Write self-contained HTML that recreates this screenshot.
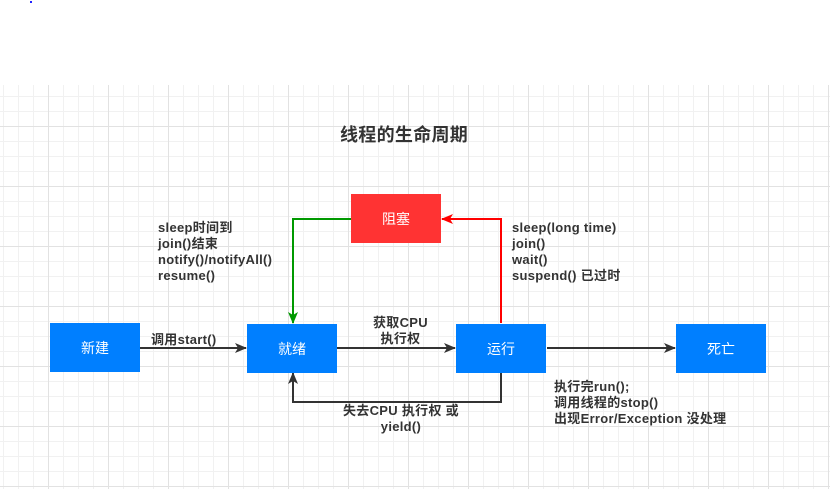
<!DOCTYPE html>
<html><head><meta charset="utf-8"><style>
body{margin:0;width:830px;height:489px;background:#fff;position:relative;overflow:hidden;font-family:"Liberation Sans","Noto Sans CJK SC",sans-serif}
.grid{position:absolute;left:0;top:85px;width:830px;height:404px;
background-image:linear-gradient(#e2e2e2 1px,transparent 1px),linear-gradient(90deg,#e2e2e2 1px,transparent 1px),linear-gradient(#f1f1f1 1px,transparent 1px),linear-gradient(90deg,#f1f1f1 1px,transparent 1px);
background-size:60px 60px,60px 60px,15px 15px,15px 15px;
background-position:0 41px,48px 0,0 11px,3px 0}
.b{position:absolute;width:90px;height:49px;background:#007fff;color:#fff;font-size:14px;display:flex;align-items:center;justify-content:center}
.t{position:absolute;font-size:13px;font-weight:bold;color:#333;line-height:16px;white-space:nowrap;letter-spacing:0.3px}
</style></head><body>
<div class="grid"></div>
<div style="position:absolute;left:30px;top:1px;width:2px;height:2px;background:#22f"></div>
<div class="t" style="left:340px;top:124px;font-size:18px;line-height:22px">线程的生命周期</div>
<svg width="830" height="489" style="position:absolute;left:0;top:0">
<defs>
<marker id="k" markerWidth="12" markerHeight="10" refX="11" refY="5" orient="auto" markerUnits="userSpaceOnUse"><path d="M0,0L12,5L0,10L3,5z" fill="#333"/></marker>
<marker id="g" markerWidth="12" markerHeight="10" refX="11" refY="5" orient="auto" markerUnits="userSpaceOnUse"><path d="M0,0L12,5L0,10L3,5z" fill="#090"/></marker>
<marker id="r" markerWidth="12" markerHeight="10" refX="11" refY="5" orient="auto" markerUnits="userSpaceOnUse"><path d="M0,0L12,5L0,10L3,5z" fill="#f00"/></marker>
</defs>
<g fill="none" stroke-width="2">
<path d="M140,348H246" stroke="#333" marker-end="url(#k)"/>
<path d="M337,348H455" stroke="#333" marker-end="url(#k)"/>
<path d="M547,348H675" stroke="#333" marker-end="url(#k)"/>
<path d="M501,372V402H293V373" stroke="#333" marker-end="url(#k)"/>
<path d="M351,219H293V323" stroke="#090" marker-end="url(#g)"/>
<path d="M501,323V219H442" stroke="#f00" marker-end="url(#r)"/>
</g></svg>
<div class="b" style="left:50px;top:323px">新建</div>
<div class="b" style="left:247px;top:324px">就绪</div>
<div class="b" style="left:456px;top:324px">运行</div>
<div class="b" style="left:676px;top:324px">死亡</div>
<div class="b" style="left:351px;top:194px;background:#f33">阻塞</div>
<div class="t" style="left:151px;top:332px">调用start()</div>
<div class="t" style="left:373px;top:315px;text-align:center">获取CPU<br>执行权</div>
<div class="t" style="left:343px;top:403px;text-align:center">失去CPU 执行权 或<br>yield()</div>
<div class="t" style="left:158px;top:220px">sleep时间到<br>join()结束<br>notify()/notifyAll()<br>resume()</div>
<div class="t" style="left:512px;top:220px">sleep(long time)<br>join()<br>wait()<br>suspend() 已过时</div>
<div class="t" style="left:554px;top:379px">执行完run();<br>调用线程的stop()<br>出现Error/Exception 没处理</div>
</body></html>
